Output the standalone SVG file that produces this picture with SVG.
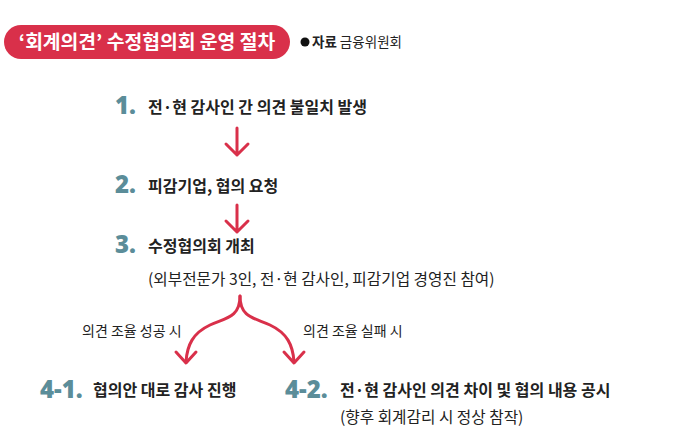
<svg xmlns="http://www.w3.org/2000/svg" width="680" height="448" viewBox="0 0 680 448">
<style>
text{font-family:"Noto Sans CJK KR","Noto Sans",sans-serif;fill:#222}
.num{font-family:"Open Sans","Noto Sans",sans-serif;font-weight:900;fill:#5b8d99;font-size:24px}
.b{font-weight:700;font-size:16px}
.r{font-size:15.7px}
.s{font-size:14px}
.arr{fill:none;stroke:#d9304a;stroke-width:3;stroke-linecap:round;stroke-linejoin:round}
</style>
<rect width="680" height="448" fill="#fff"/>
<g id="title">
<rect x="4" y="25" width="286" height="34" rx="17" fill="#d9304a"/>
<text x="147" y="49" text-anchor="middle" style="fill:#fff;font-weight:700;font-size:19.3px">‘회계의견’ 수정협의회 운영 절차</text>
<circle cx="305" cy="42" r="4.5" fill="#111"/>
<text x="312" y="47" style="font-size:13.5px"><tspan font-weight="700">자료</tspan> 금융위원회</text>
</g>
<g id="step1">
<text class="num" x="115" y="114">1.</text>
<text class="b" x="148" y="113">전·현 감사인 간 의견 불일치 발생</text>
</g>
<g id="step2">
<text class="num" x="115" y="193">2.</text>
<text class="b" x="148" y="192">피감기업, 협의 요청</text>
</g>
<g id="step3">
<text class="num" x="115" y="253">3.</text>
<text class="b" x="148" y="252">수정협의회 개최</text>
<text class="r" x="148" y="285">(외부전문가 3인, 전·현 감사인, 피감기업 경영진 참여)</text>
</g>
<g id="step41">
<text class="num" x="40" y="398">4-1.</text>
<text class="b" x="93" y="396">협의안 대로 감사 진행</text>
</g>
<g id="step42">
<text class="num" x="285" y="398">4-2.</text>
<text class="b" x="340" y="396">전·현 감사인 의견 차이 및 협의 내용 공시</text>
<text class="r" x="340" y="423">(향후 회계감리 시 정상 참작)</text>
</g>
<g id="connectors">
<path class="arr" d="M237 128 V155 M226 144 L237 155 L248 144"/>
<path class="arr" d="M237 205 V232 M226 221 L237 232 L248 221"/>
<path class="arr" d="M240 296 C240 318 225 318 210 325 C193 333 187 345 186 362"/>
<path class="arr" d="M240 296 C240 318 255 318 270 325 C287 333 293 345 294 362"/>
<path class="arr" d="M176 352 L186 363 L196 352"/>
<path class="arr" d="M284 352 L294 363 L304 352"/>
<text class="s" x="82" y="336">의견 조율 성공 시</text>
<text class="s" x="303" y="336">의견 조율 실패 시</text>
</g>
</svg>
